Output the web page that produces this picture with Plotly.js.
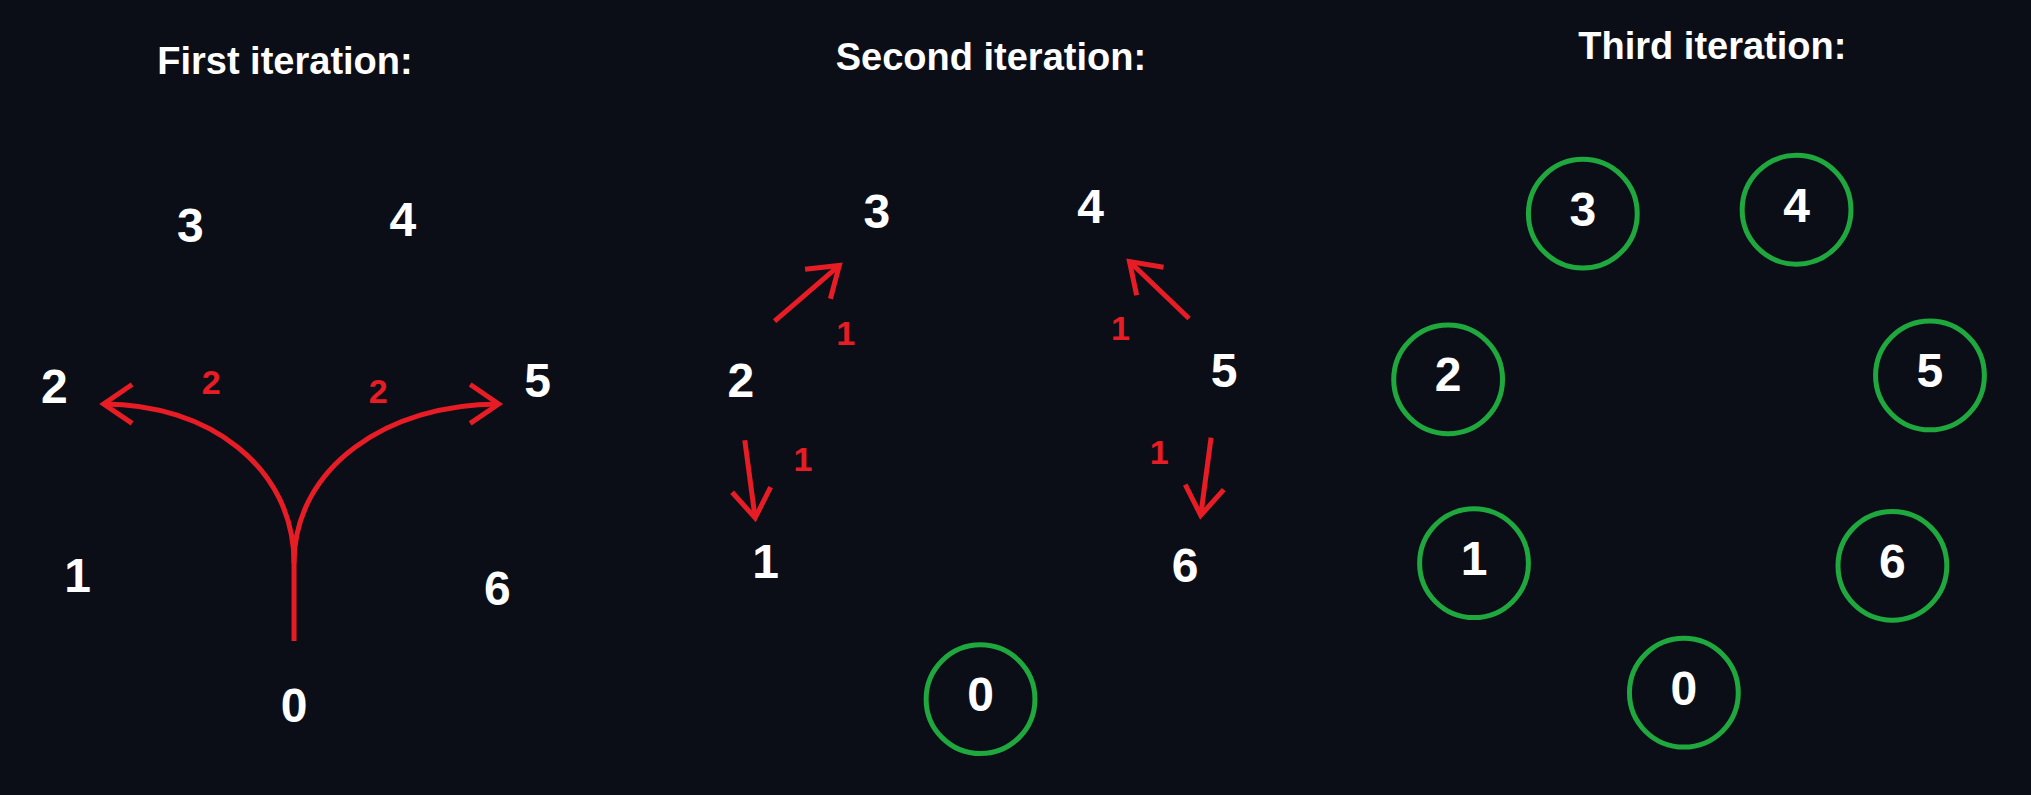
<!DOCTYPE html>
<html>
<head>
<meta charset="utf-8">
<script src="https://cdn.plot.ly/plotly-3.0.1.min.js"></script>
<style>html,body{margin:0;padding:0;background:#0b0e17;}</style>
</head>
<body>
<div id="chart" style="width:2031px;height:795px;"></div>
<script>
// positions on a 1568 x 614 canvas (y grows downward)
var labels = ['0', '1', '2', '3', '4', '5', '6'];
var firstX = [227, 60, 42, 147, 311, 415, 384];
var firstY = [548, 448, 302, 178, 173, 297, 458];
var secondX = [757, 591, 572, 677, 842, 945, 915];
var secondY = [540, 437, 297, 167, 163, 290, 440];
var thirdX = [1300, 1138, 1118, 1222, 1387, 1490, 1461];
var thirdY = [535, 435, 293, 165, 162, 290, 437];
var secondVisited = ['0'];

var titles = ['First iteration:', 'Second iteration:', 'Third iteration:'];
var titleX = [220, 765, 1322];
var titleY = [50, 47, 38];

var weightText = ['2', '2', '1', '1', '1', '1'];
var weightX = [163, 292, 653, 620, 865, 895];
var weightY = [298, 305, 260, 357, 256, 352];

// straight arrows of the second iteration: [x0, y0, x1, y1]
var secondArrows = [[598, 248, 648, 205], [918, 246, 872, 202], [575, 340, 583, 400], [935, 338, 927, 398]];

var RED = '#e81c24', GREEN = '#1fa83d', BG = '#0b0e17';
var nodeFont = {family: 'Liberation Sans, Arial, sans-serif', size: 48, color: '#ffffff'};

function nodeTrace(xs, ys) {
  return {x: xs, y: ys, text: labels, mode: 'text', type: 'scatter',
    textfont: nodeFont, hoverinfo: 'skip', showlegend: false};
}

var shapes = [];
function ring(x, y) {
  shapes.push({type: 'circle', xref: 'x', yref: 'y', x0: x - 42, x1: x + 42, y0: y - 42, y1: y + 42,
    line: {color: GREEN, width: 5}});
}
function path(d) {
  shapes.push({type: 'path', path: d, xref: 'x', yref: 'y', line: {color: RED, width: 5}});
}
function chevron(x0, y0, x1, y1) {
  var dx = x1 - x0, dy = y1 - y0, len = Math.sqrt(dx * dx + dy * dy);
  var ux = dx / len, uy = dy / len, h = 22, w = 15;
  var bx = x1 - ux * h, by = y1 - uy * h;
  path('M' + (bx - uy * w) + ',' + (by + ux * w) + ' L' + x1 + ',' + y1 + ' L' + (bx + uy * w) + ',' + (by - ux * w));
}

// first iteration curves
path('M227,495 L227,435 C227,360 160,312 80,312');
path('M227,435 C227,360 300,312 385,312');
chevron(100, 312, 80, 312);
chevron(365, 312, 385, 312);

secondArrows.forEach(function (a) {
  path('M' + a[0] + ',' + a[1] + ' L' + a[2] + ',' + a[3]);
  chevron(a[0], a[1], a[2], a[3]);
});

labels.forEach(function (l, i) {
  if (secondVisited.indexOf(l) >= 0) ring(secondX[i], secondY[i]);
  ring(thirdX[i], thirdY[i]);
});

var data = [
  nodeTrace(firstX, firstY),
  nodeTrace(secondX, secondY),
  nodeTrace(thirdX, thirdY),
  {x: titleX, y: titleY, text: titles, mode: 'text', type: 'scatter', hoverinfo: 'skip', showlegend: false,
    textfont: {family: 'Liberation Sans, Arial, sans-serif', size: 38, color: '#ffffff'}},
  {x: weightX, y: weightY, text: weightText, mode: 'text', type: 'scatter', hoverinfo: 'skip', showlegend: false,
    textfont: {family: 'Liberation Sans, Arial, sans-serif', size: 34, color: RED}}
];

var layout = {
  width: 2031, height: 795,
  margin: {l: 0, r: 0, t: 0, b: 0},
  paper_bgcolor: BG, plot_bgcolor: BG,
  xaxis: {range: [0, 1568], visible: false, fixedrange: true},
  yaxis: {range: [614, 0], visible: false, fixedrange: true},
  shapes: shapes
};

Plotly.newPlot('chart', data, layout, {displayModeBar: false, staticPlot: true});
// make text bold
setTimeout(function () {
  document.querySelectorAll('.textpoint text').forEach(function (t) { t.style.fontWeight = 'bold'; });
}, 50);
</script>
</body>
</html>
